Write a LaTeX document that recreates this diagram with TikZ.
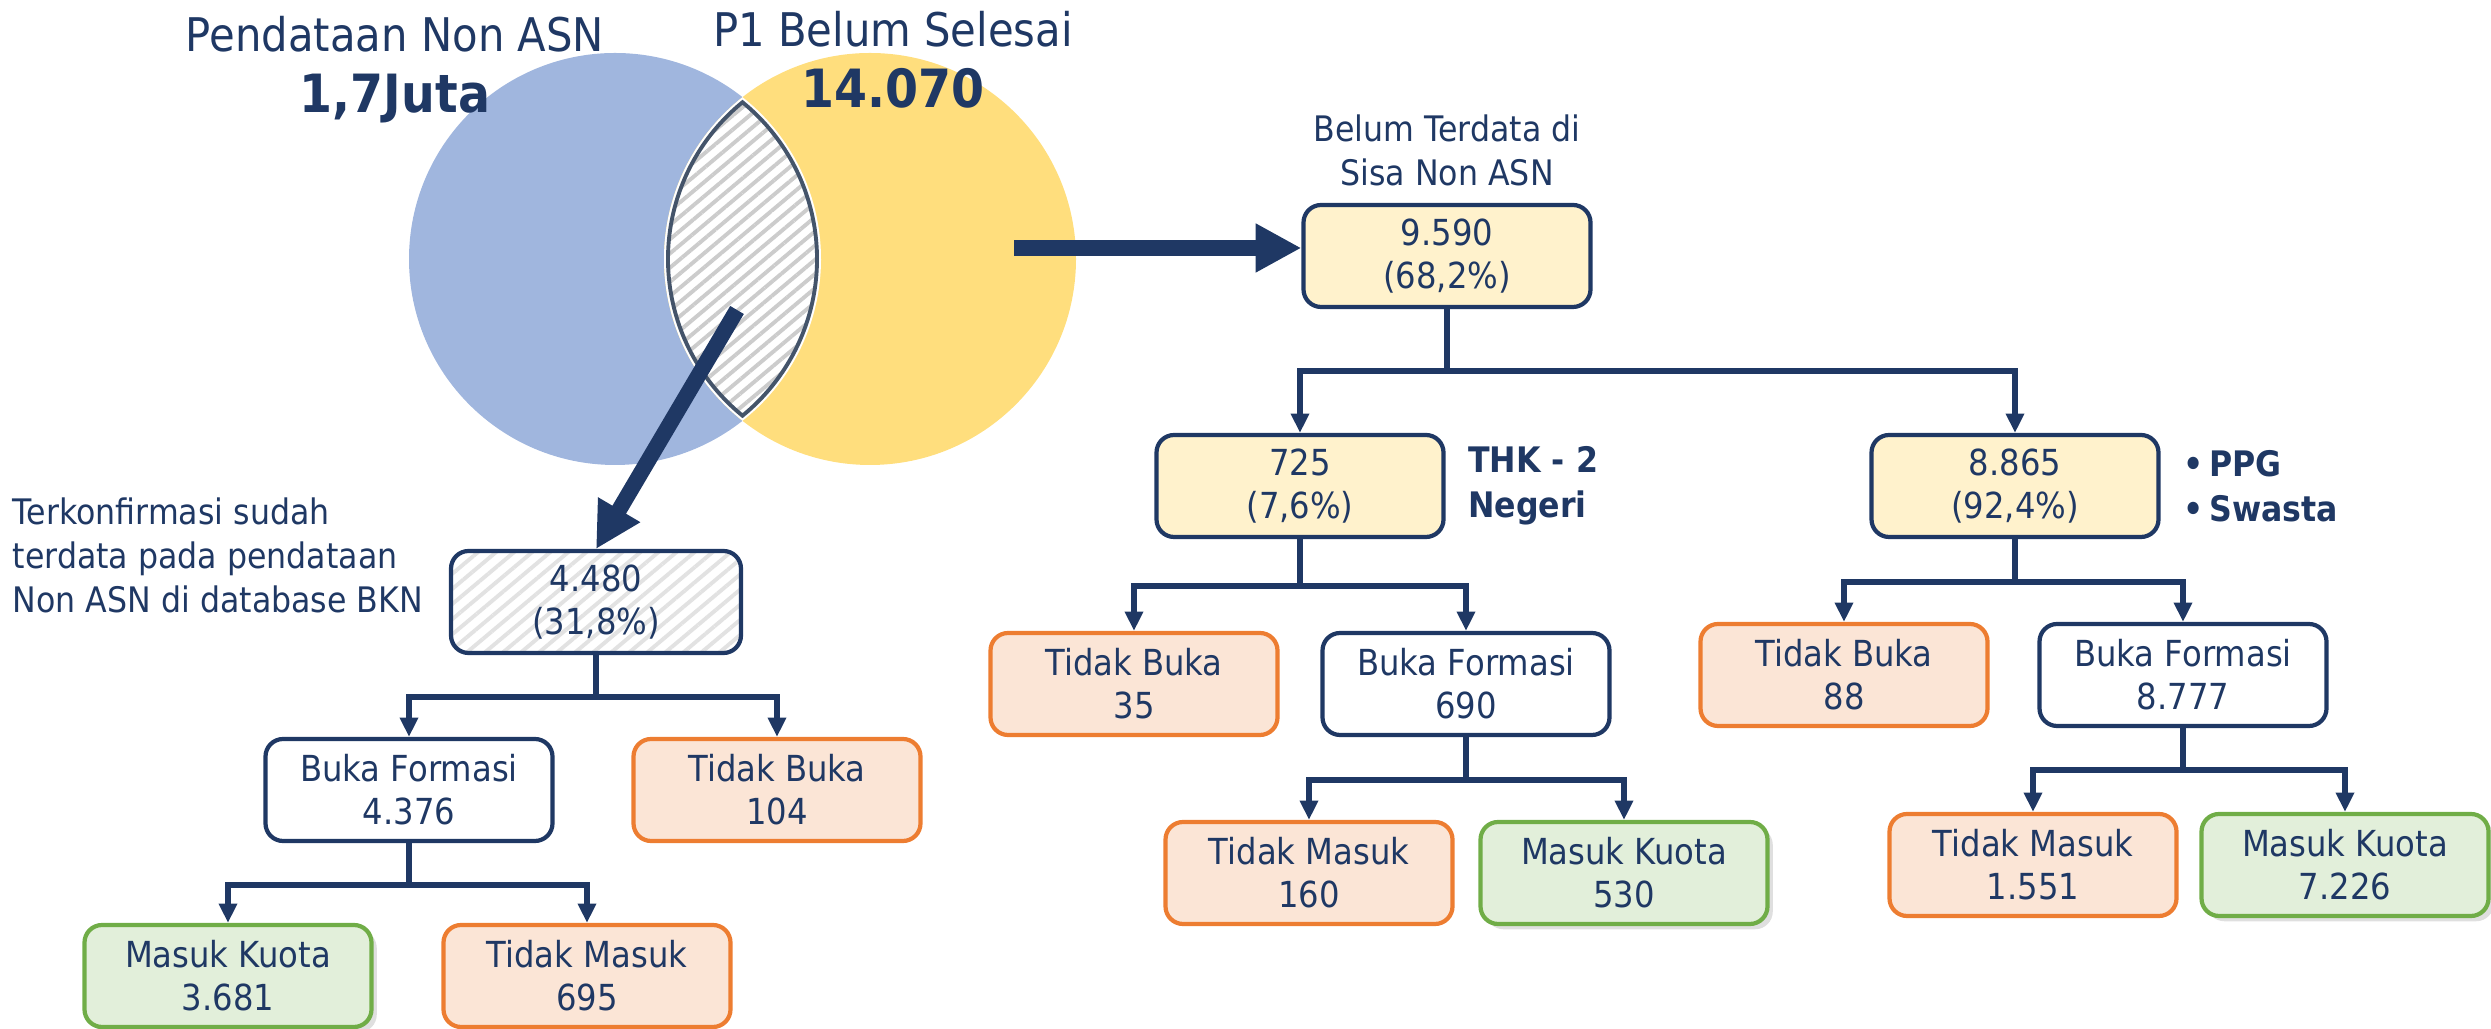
\documentclass[tikz,border=0pt]{standalone}
\usepackage{fontspec}
\setmainfont{DejaVu Sans}[FakeStretch=0.9]
\usetikzlibrary{positioning, arrows.meta, patterns.meta, shadows}
\definecolor{navy}{RGB}{31,56,100}
\definecolor{venblue}{RGB}{160,182,222}
\definecolor{venyel}{RGB}{255,222,125}
\definecolor{lensline}{RGB}{68,84,106}
\definecolor{hatchgray}{RGB}{204,204,204}
\definecolor{hatchlight}{RGB}{226,226,226}
\definecolor{boxyellow}{RGB}{255,242,204}
\definecolor{orgline}{RGB}{237,125,49}
\definecolor{orgfill}{RGB}{251,229,214}
\definecolor{grnline}{RGB}{112,173,71}
\definecolor{grnfill}{RGB}{226,239,218}

\begin{document}
\begin{tikzpicture}[
	box/.style={rectangle, rounded corners=5pt, draw=navy, line width=1.2pt, text=navy, minimum width=2.87cm, minimum height=1.02cm, inner sep=0pt, align=center, font=\fontsize{10.2}{12.3}\selectfont},
	yel/.style={box, fill=boxyellow},
	wht/.style={box, fill=white},
	org/.style={box, draw=orgline, fill=orgfill},
	grn/.style={box, draw=grnline, fill=grnfill, drop shadow={shadow xshift=1.5pt, shadow yshift=-1.5pt, opacity=.25}},
	lbl/.style={text=navy, inner sep=0pt, align=left, font=\bfseries\fontsize{10}{12.8}\selectfont},
	link/.style={draw=navy, line width=1.7pt, -{Triangle[width=5pt,length=5.5pt]}},
	big/.style={draw=navy, line width=4.5pt, -{Triangle[width=13pt,length=13pt]}}]
	\useasboundingbox (0,0) rectangle (24.91,-10.29);
	\coordinate (bl) at (6.15,-2.59);
	\coordinate (yl) at (8.70,-2.59);
	\fill[venblue] (bl) circle (2.06);
	\fill[venyel] (yl) circle (2.06);
	\fill[white] (7.425,-0.972) arc[start angle=128.24, end angle=231.76, radius=2.06] arc[start angle=-51.76, end angle=51.76, radius=2.06] -- cycle;
	\draw[lensline, line width=1.1pt, preaction={fill=white}, pattern={Lines[angle=40,distance=3.1pt,line width=1.1pt]}, pattern color=hatchgray] (7.425,-1.023) arc[start angle=129.13, end angle=230.87, radius=2.02] arc[start angle=-50.87, end angle=50.87, radius=2.02] -- cycle;
	\node[anchor=base, text=navy, font=\fontsize{13.2}{16}\selectfont] (pendt) at (3.95,-0.52) {Pendataan Non ASN};
	\node[anchor=base, text=navy, font=\bfseries\fontsize{15}{18}\selectfont] (pendn) at (3.95,-1.13) {1,7Juta};
	\node[anchor=base, text=navy, font=\fontsize{13.2}{16}\selectfont] (p1t) at (8.93,-0.47) {P1 Belum Selesai};
	\node[anchor=base, text=navy, font=\bfseries\fontsize{15}{18}\selectfont] (p1n) at (8.93,-1.08) {14.070};
	\node[yel] (sisa) at (14.47,-2.56) {9.590\\(68,2\%)};
	\node[above=0.16cm of sisa, text=navy, inner sep=0pt, align=center, font=\fontsize{10}{12.5}\selectfont] (sisatxt) {Belum Terdata di\\Sisa Non ASN};
	\node[yel] (thk) at (13.00,-4.86) {725\\(7,6\%)};
	\node[lbl, right=0.22cm of thk] (thktxt) {THK - 2\\Negeri};
	\node[yel] (ppg) at (20.15,-4.86) {8.865\\(92,4\%)};
	\node[lbl, right=0.22cm of ppg] (ppgtxt) {\textbullet\,PPG\\\textbullet\,Swasta};
	\node[org] (tb35) at (11.34,-6.84) {Tidak Buka\\35};
	\node[wht] (bf690) at (14.66,-6.84) {Buka Formasi\\690};
	\node[org] (tm160) at (13.09,-8.73) {Tidak Masuk\\160};
	\node[grn] (mk530) at (16.24,-8.73) {Masuk Kuota\\530};
	\node[org] (tb88) at (18.44,-6.75) {Tidak Buka\\88};
	\node[wht] (bf8777) at (21.83,-6.75) {Buka Formasi\\8.777};
	\node[org] (tm1551) at (20.33,-8.65) {Tidak Masuk\\1.551};
	\node[grn] (mk7226) at (23.45,-8.65) {Masuk Kuota\\7.226};
	\node[box, minimum width=2.9cm, preaction={fill=white}, pattern={Lines[angle=40,distance=3.3pt,line width=1.1pt]}, pattern color=hatchlight] (konf) at (5.96,-6.02) {4.480\\(31,8\%)};
	\node[anchor=north west, text=navy, inner sep=0pt, align=left, font=\fontsize{10}{12.6}\selectfont] (konftxt) at (0.12,-4.97) {Terkonfirmasi sudah\\terdata pada pendataan\\Non ASN di database BKN};
	\node[wht] (bf4376) at (4.09,-7.90) {Buka Formasi\\4.376};
	\node[org] (tb104) at (7.77,-7.90) {Tidak Buka\\104};
	\node[grn] (mk3681) at (2.28,-9.76) {Masuk Kuota\\3.681};
	\node[org] (tm695) at (5.87,-9.76) {Tidak Masuk\\695};
	\coordinate (rgo) at (10.14,-2.48);
	\draw[big] (rgo) -- (rgo -| sisa.west);
	\coordinate (dgo) at (7.37,-3.10);
	\draw[big] (dgo) -- (konf.north);
	\draw[link] (sisa.south) -- ++(0,-.62) -| (thk.north);
	\draw[link] (sisa.south) -- ++(0,-.62) -| (ppg.north);
	\draw[link] (thk.south) -- ++(0,-.47) -| (tb35.north);
	\draw[link] (thk.south) -- ++(0,-.47) -| (bf690.north);
	\draw[link] (bf690.south) -- ++(0,-.43) -| (tm160.north);
	\draw[link] (bf690.south) -- ++(0,-.43) -| (mk530.north);
	\draw[link] (ppg.south) -- ++(0,-.43) -| (tb88.north);
	\draw[link] (ppg.south) -- ++(0,-.43) -| (bf8777.north);
	\draw[link] (bf8777.south) -- ++(0,-.42) -| (tm1551.north);
	\draw[link] (bf8777.south) -- ++(0,-.42) -| (mk7226.north);
	\draw[link] (konf.south) -- ++(0,-.42) -| (bf4376.north);
	\draw[link] (konf.south) -- ++(0,-.42) -| (tb104.north);
	\draw[link] (bf4376.south) -- ++(0,-.42) -| (mk3681.north);
	\draw[link] (bf4376.south) -- ++(0,-.42) -| (tm695.north);
\end{tikzpicture}
\end{document}
